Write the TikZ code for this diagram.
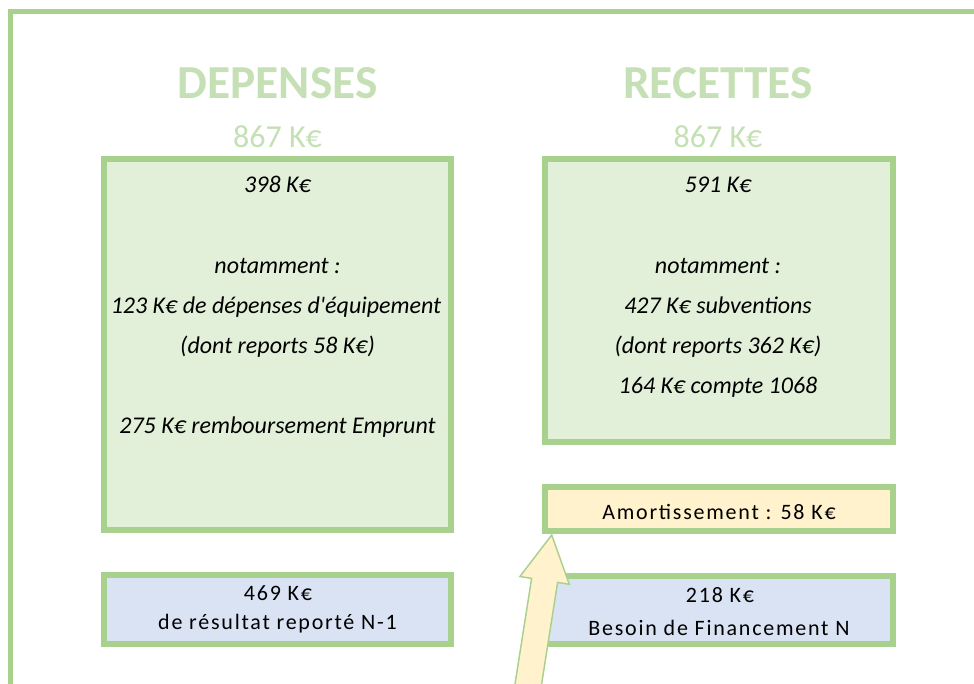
\documentclass[tikz,border=0pt]{standalone}
\usepackage{fontspec}
\setmainfont{Carlito}[Ligatures=TeXOff]
\newfontfamily\spacedfont[LetterSpace=8]{Carlito}
\definecolor{frameg}{HTML}{A9D18E}
\definecolor{headg}{HTML}{C5E0B4}
\definecolor{boxg}{HTML}{E2F0D9}
\definecolor{boxb}{HTML}{DAE3F3}
\definecolor{boxy}{HTML}{FFF2CC}
\begin{document}
\begin{tikzpicture}[x=0.75pt,y=-0.75pt,
  panel/.style={draw=frameg, line width=4.1pt, inner sep=0pt, outer sep=0pt},
  greenbox/.style={panel, fill=boxg},
  bluebox/.style={panel, fill=boxb},
  yellowbox/.style={panel, fill=boxy},
  heading/.style={anchor=base, text=headg, font=\fontsize{35.5}{40}\selectfont\bfseries, inner sep=0pt},
  total/.style={anchor=base, text=headg, font=\fontsize{24}{28}\selectfont, inner sep=0pt},
  itxt/.style={anchor=base, font=\fontsize{18}{22}\selectfont\itshape, inner sep=0pt},
  stxt/.style={anchor=base, font=\fontsize{16.5}{19}\spacedfont, inner sep=0pt},
  blockarrow/.style={draw=frameg, fill=boxy, line width=1.1pt, line join=miter}
]
\useasboundingbox (0,0) rectangle (974,684);
\clip (0,0) rectangle (974,684);

% outer frame
\draw[frameg, line width=3.75pt] (10,12) rectangle (1000,720);

% headings
\node[heading] (hdep) at (277.5,99) {DEPENSES};
\node[heading] (hrec) at (718,99) {RECETTES};
\node[total] (tdep) at (277.5,147.7) {867 K€};
\node[total] (trec) at (718,147.7) {867 K€};

% boxes
\node[greenbox, minimum width=347*0.75pt, minimum height=371*0.75pt] (dep) at (277.5,344.5) {};
\node[greenbox, minimum width=348*0.75pt, minimum height=283*0.75pt] (rec) at (719,300.5) {};
\node[yellowbox, minimum width=348*0.75pt, minimum height=44*0.75pt] (amort) at (719,509) {};
\node[bluebox, minimum width=347*0.75pt, minimum height=69*0.75pt] (res) at (277.5,609.5) {};
\node[bluebox, minimum width=348*0.75pt, minimum height=68*0.75pt] (bes) at (719,610) {};

% depenses text
\node[itxt] (d1) at (277.5,193) {398 K€};
\node[itxt] (d2) at (277.5,273) {notamment :};
\node[itxt] (d3) at (276,313) {123 K€ de dépenses d'équipement};
\node[itxt] (d4) at (277.5,353) {(dont reports 58 K€)};
\node[itxt] (d5) at (277.5,433) {275 K€ remboursement Emprunt};

% recettes text
\node[itxt] (r1) at (718,193) {591 K€};
\node[itxt] (r2) at (718,273) {notamment :};
\node[itxt] (r3) at (718,313) {427 K€ subventions};
\node[itxt] (r4) at (718,353) {(dont reports 362 K€)};
\node[itxt] (r5) at (718,393) {164 K€ compte 1068};

% small boxes text
\node[stxt] (a1) at (719,519.8) {Amortissement : 58 K€};
\node[stxt] (b1) at (278,600) {469 K€};
\node[stxt] (b2) at (277.5,629.5) {de résultat reporté N-1};
\node[stxt] (c1) at (720,602.5) {218 K€};
\node[stxt] (c2) at (719,635) {Besoin de Financement N};

% block arrow pointing to amortissement box
\coordinate (tip) at (551.7,535);
\draw[blockarrow] (tip) -- (569.3,584.3) -- (557.6,582.4) -- (538.8,702)
  -- (512.8,698) -- (531.6,578.4) -- (519.9,576.5) -- cycle;
\end{tikzpicture}
\end{document}
